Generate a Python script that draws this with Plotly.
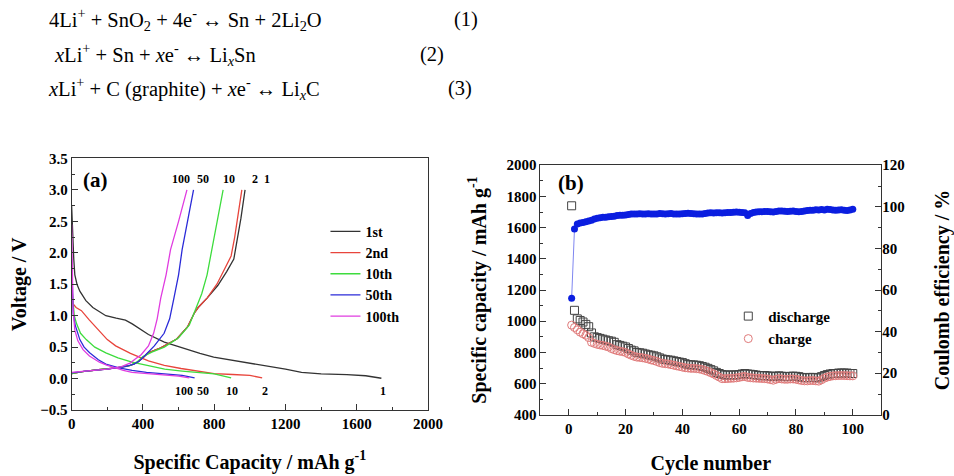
import plotly.graph_objects as go

# ---------------- Data: panel (a) voltage profiles ----------------
cycle_names = ["1st", "2nd", "10th", "50th", "100th"]
cycle_colors = ["#333333", "#e8453c", "#3ddc3d", "#2b2bd8", "#e03ce0"]

dis1_x = [0, 5, 12, 18, 30, 46, 80, 119, 192, 250, 302, 340, 431, 520, 614, 720, 797, 950, 1100, 1200, 1290, 1400, 1545, 1650, 1738]
dis1_y = [2.75, 2.3, 1.9, 1.65, 1.5, 1.39, 1.24, 1.13, 1.0, 0.96, 0.93, 0.87, 0.70, 0.58, 0.49, 0.40, 0.34, 0.27, 0.19, 0.15, 0.10, 0.075, 0.063, 0.045, 0.005]
chg1_x = [0, 60, 150, 250, 330, 370, 400, 430, 500, 590, 650, 690, 710, 760, 820, 870, 910, 930, 950, 973]
chg1_y = [0.08, 0.11, 0.14, 0.17, 0.21, 0.26, 0.33, 0.41, 0.49, 0.63, 0.82, 1.05, 1.13, 1.28, 1.48, 1.70, 1.90, 2.2, 2.55, 3.0]

dis2_x = [0, 5, 25, 55, 100, 156, 200, 247, 330, 431, 520, 614, 720, 800, 904, 1000, 1069]
dis2_y = [1.4, 1.2, 1.13, 1.08, 0.93, 0.75, 0.62, 0.52, 0.40, 0.28, 0.21, 0.16, 0.11, 0.08, 0.065, 0.05, 0.01]
chg2_x = [0, 60, 150, 250, 330, 370, 400, 430, 500, 590, 650, 690, 710, 760, 815, 860, 895, 915, 935, 955]
chg2_y = [0.08, 0.11, 0.14, 0.17, 0.21, 0.26, 0.33, 0.41, 0.49, 0.63, 0.82, 1.05, 1.13, 1.28, 1.50, 1.75, 1.95, 2.25, 2.6, 3.0]

dis10_x = [0, 8, 15, 28, 50, 82, 130, 192, 260, 339, 430, 522, 620, 706, 800, 895]
dis10_y = [1.5, 1.2, 1.0, 0.87, 0.72, 0.62, 0.50, 0.41, 0.33, 0.26, 0.20, 0.15, 0.12, 0.095, 0.075, 0.01]
chg10_x = [0, 60, 150, 250, 330, 370, 400, 450, 520, 600, 660, 700, 730, 760, 790, 815, 850]
chg10_y = [0.08, 0.11, 0.14, 0.17, 0.21, 0.27, 0.35, 0.42, 0.50, 0.65, 0.85, 1.12, 1.35, 1.65, 2.1, 2.5, 3.0]

dis50_x = [0, 3, 6, 9, 20, 46, 70, 101, 150, 192, 266, 339, 420, 520, 620, 690]
dis50_y = [1.9, 1.5, 1.2, 1.03, 0.85, 0.62, 0.50, 0.41, 0.30, 0.23, 0.17, 0.13, 0.10, 0.08, 0.05, 0.01]
chg50_x = [0, 80, 200, 300, 350, 380, 409, 464, 519, 550, 574, 600, 620, 650, 684]
chg50_y = [0.09, 0.12, 0.15, 0.19, 0.23, 0.28, 0.36, 0.52, 0.72, 0.95, 1.28, 1.65, 2.05, 2.5, 3.0]

dis100_x = [0, 2, 4, 8, 18, 35, 64, 100, 156, 200, 247, 290, 339, 420, 522, 600, 660]
dis100_y = [2.45, 2.0, 1.5, 1.1, 0.77, 0.60, 0.46, 0.36, 0.26, 0.21, 0.17, 0.13, 0.10, 0.085, 0.065, 0.04, 0.01]
chg100_x = [0, 80, 200, 280, 330, 357, 390, 431, 460, 480, 500, 530, 555, 600, 647]
chg100_y = [0.10, 0.12, 0.15, 0.19, 0.25, 0.31, 0.38, 0.52, 0.72, 0.95, 1.28, 1.65, 2.05, 2.5, 3.0]

profiles = [
    (dis1_x, dis1_y, chg1_x, chg1_y),
    (dis2_x, dis2_y, chg2_x, chg2_y),
    (dis10_x, dis10_y, chg10_x, chg10_y),
    (dis50_x, dis50_y, chg50_x, chg50_y),
    (dis100_x, dis100_y, chg100_x, chg100_y),
]

top_labels = ["100", "50", "10", "2", "1"]
top_label_x = [616, 737, 885, 1028, 1094]
bottom_labels = ["100", "50", "10", "2", "1"]
bottom_label_x = [633, 737, 902, 1083, 1748]

# ---------------- Data: panel (b) cycling ----------------
cycles = list(range(1, 101))
discharge = [1740, 1070, 1015, 1005, 995, 980, 965, 925, 900, 895,
             890, 885, 880, 875, 872, 865, 850, 845, 840, 835,
             825, 815, 810, 800, 798, 795, 790, 785, 782, 778,
             772, 765, 758, 755, 752, 750, 746, 742, 738, 735,
             728, 722, 720, 720, 718, 715, 710, 705, 698, 690,
             682, 672, 665, 658, 655, 655, 656, 655, 656, 658,
             662, 665, 662, 660, 658, 655, 652, 650, 652, 650,
             648, 645, 648, 650, 648, 645, 645, 647, 648, 647,
             645, 640, 638, 638, 640, 640, 638, 637, 645, 652,
             658, 662, 665, 665, 668, 668, 668, 668, 665, 665]
charge = [975, 960, 945, 930, 920, 910, 895, 865, 858, 852,
          848, 845, 840, 835, 825, 818, 812, 808, 805, 800,
          790, 782, 775, 770, 768, 766, 762, 758, 752, 748,
          742, 735, 730, 728, 726, 722, 718, 714, 710, 706,
          702, 700, 698, 698, 696, 694, 690, 684, 678, 670,
          662, 652, 642, 632, 632, 633, 634, 635, 637, 640,
          644, 646, 640, 638, 636, 635, 634, 633, 632, 630,
          626, 622, 628, 632, 630, 628, 628, 630, 630, 628,
          624, 620, 618, 618, 620, 620, 618, 616, 625, 635,
          642, 646, 650, 651, 652, 652, 652, 651, 650, 650]
efficiency = [56.0, 89.4, 91.8, 92.2, 92.5, 92.8, 93.2, 93.6, 94.2, 94.5,
              94.8, 95.0, 95.0, 95.2, 95.3, 95.5, 95.8, 96.0, 95.9, 96.1,
              96.3, 96.5, 96.6, 96.6, 96.7, 96.6, 96.5, 96.7, 96.6, 96.5,
              96.6, 96.8, 96.7, 96.6, 96.7, 96.8, 96.6, 96.5, 96.6, 96.7,
              96.8, 96.9, 96.8, 96.7, 96.6, 96.5, 96.6, 96.8, 97.0, 97.1,
              97.0, 97.2, 97.1, 97.0, 97.2, 97.3, 97.3, 97.4, 97.5, 97.4,
              97.3, 97.2, 95.8, 96.8, 97.3, 97.5, 97.6, 97.6, 97.7, 97.8,
              97.6, 97.5, 97.8, 98.0, 98.0, 97.9, 97.8, 97.9, 98.0, 97.8,
              97.6, 97.8, 98.0, 98.2, 98.3, 98.4, 98.6, 98.5, 98.7, 98.5,
              98.8, 98.7, 98.5, 98.3, 98.5, 98.6, 98.4, 98.2, 98.5, 98.8]

equations = [
    "4Li<sup>+</sup> + SnO<sub>2</sub> + 4e<sup>-</sup> \u2194 Sn + 2Li<sub>2</sub>O",
    "<i>x</i>Li<sup>+</sup> + Sn + <i>x</i>e<sup>-</sup> \u2194 Li<sub><i>x</i></sub>Sn",
    "<i>x</i>Li<sup>+</sup> + C (graphite) + <i>x</i>e<sup>-</sup> \u2194 Li<sub><i>x</i></sub>C",
]
eq_numbers = ["(1)", "(2)", "(3)"]

# ---------------- Figure ----------------
W, H = 954, 476
SERIF = "Liberation Serif"
fig = go.Figure()

for name, color, (dx, dy, cx, cy) in zip(cycle_names, cycle_colors, profiles):
    fig.add_trace(go.Scatter(
        x=dx + [None] + cx, y=dy + [None] + cy, mode="lines", name=name,
        line=dict(color=color, width=1.3), xaxis="x", yaxis="y", legend="legend",
        connectgaps=False))

fig.add_trace(go.Scatter(
    x=cycles, y=discharge, mode="markers", name="discharge",
    marker=dict(symbol="square-open", size=8, color="#444444", line=dict(width=1)),
    xaxis="x2", yaxis="y2", legend="legend2"))
fig.add_trace(go.Scatter(
    x=cycles, y=charge, mode="markers", name="charge",
    marker=dict(symbol="circle-open", size=8, color="#e07a7a", line=dict(width=1)),
    xaxis="x2", yaxis="y2", legend="legend2"))
fig.add_trace(go.Scatter(
    x=cycles, y=efficiency, mode="lines+markers", name="Coulomb efficiency",
    line=dict(color="#7f86f0", width=1), marker=dict(symbol="circle", size=7, color="#0b1ee0"),
    xaxis="x2", yaxis="y3", showlegend=False))

def px2x(p):
    return p / W

def px2y(p):
    return 1 - p / H

def tfont():
    return dict(family=SERIF, size=15, color="black", weight=700)

titlefont = dict(family=SERIF, size=20, color="black", weight=700)

def axis_common():
    return dict(showline=True, linecolor="#333333", linewidth=1, mirror=True,
                ticks="inside", ticklen=6, tickcolor="#333333", showgrid=False,
                zeroline=False, tickfont=tfont())

fig.update_layout(
    width=W, height=H, margin=dict(l=0, r=0, t=0, b=0),
    paper_bgcolor="white", plot_bgcolor="white",
    font=dict(family=SERIF, color="black", size=15),
    xaxis=dict(domain=[px2x(69), px2x(432.7)], anchor="y", range=[0, 2000],
               tick0=0, dtick=400,
               minor=dict(ticks="inside", ticklen=3, dtick=200, tickcolor="#333333"),
               title=dict(text="Specific Capacity / mAh g<sup>-1</sup>", font=titlefont, standoff=23),
               **axis_common()),
    yaxis=dict(domain=[px2y(416), px2y(155.7)], anchor="x", range=[-0.5, 3.5],
               tick0=0, dtick=0.5, tickformat=".1f",
               minor=dict(ticks="inside", ticklen=3, dtick=0.25, tickcolor="#333333"),
               title=dict(text="Voltage / V", font=titlefont, standoff=8),
               **axis_common()),
    xaxis2=dict(domain=[px2x(547.3), px2x(895)], anchor="y2", range=[-10, 110],
                tick0=0, dtick=20,
                minor=dict(ticks="inside", ticklen=3, dtick=10, tickcolor="#333333"),
                title=dict(text="Cycle number", font=titlefont, standoff=20),
                **axis_common()),
    yaxis2=dict(domain=[px2y(421), px2y(162.7)], anchor="x2", range=[400, 2000],
                tick0=400, dtick=200,
                minor=dict(ticks="inside", ticklen=3, dtick=100, tickcolor="#333333"),
                title=dict(text="Specific capacity / mAh g<sup>-1</sup>", font=titlefont, standoff=14),
                **axis_common()),
    yaxis3=dict(overlaying="y2", anchor="x2", side="right", range=[0, 120],
                tick0=0, dtick=20, showline=False, ticks="inside", ticklen=6,
                tickcolor="#333333", showgrid=False, zeroline=False, tickfont=tfont(),
                minor=dict(ticks="inside", ticklen=3, dtick=10, tickcolor="#333333"),
                title=dict(text="Coulomb efficiency / %", font=titlefont, standoff=31)),
    legend=dict(x=px2x(328), y=px2y(215), xanchor="left", yanchor="top",
                bgcolor="rgba(0,0,0,0)", font=dict(family=SERIF, size=14, color="black", weight=700),
                tracegroupgap=0),
    legend2=dict(x=px2x(739), y=px2y(302), xanchor="left", yanchor="top",
                 bgcolor="rgba(0,0,0,0)", font=dict(family=SERIF, size=15, color="black", weight=700)),
)

# Equations
eq_y = [12, 48, 83]
eq_x = [44, 49, 43]
num_x = [471, 437, 465]
for t, yy, xx in zip(equations, eq_y, eq_x):
    fig.add_annotation(text=t, x=px2x(xx), y=px2y(yy), xref="paper", yref="paper",
                       xanchor="left", yanchor="middle", showarrow=False,
                       font=dict(family=SERIF, size=20.5, color="black"))
for t, yy, xx in zip(eq_numbers, eq_y, num_x):
    fig.add_annotation(text=t, x=px2x(xx), y=px2y(yy), xref="paper", yref="paper",
                       xanchor="center", yanchor="middle", showarrow=False,
                       font=dict(family=SERIF, size=20.5, color="black"))

# Panel labels
fig.add_annotation(text="(a)", x=px2x(79), y=px2y(178), xref="paper", yref="paper",
                   xanchor="left", yanchor="middle", showarrow=False,
                   font=dict(family=SERIF, size=21, color="black", weight=700))
fig.add_annotation(text="(b)", x=px2x(563), y=px2y(181), xref="paper", yref="paper",
                   xanchor="left", yanchor="middle", showarrow=False,
                   font=dict(family=SERIF, size=21, color="black", weight=700))

# Cycle number labels on panel (a)
for t, xx in zip(top_labels, top_label_x):
    fig.add_annotation(text=t, x=xx, y=3.18, xref="x", yref="y", showarrow=False,
                       font=dict(family=SERIF, size=12, color="black", weight=700))
for t, xx in zip(bottom_labels, bottom_label_x):
    fig.add_annotation(text=t, x=xx, y=-0.19, xref="x", yref="y", showarrow=False,
                       font=dict(family=SERIF, size=12, color="black", weight=700))

fig.write_html("out.html")
